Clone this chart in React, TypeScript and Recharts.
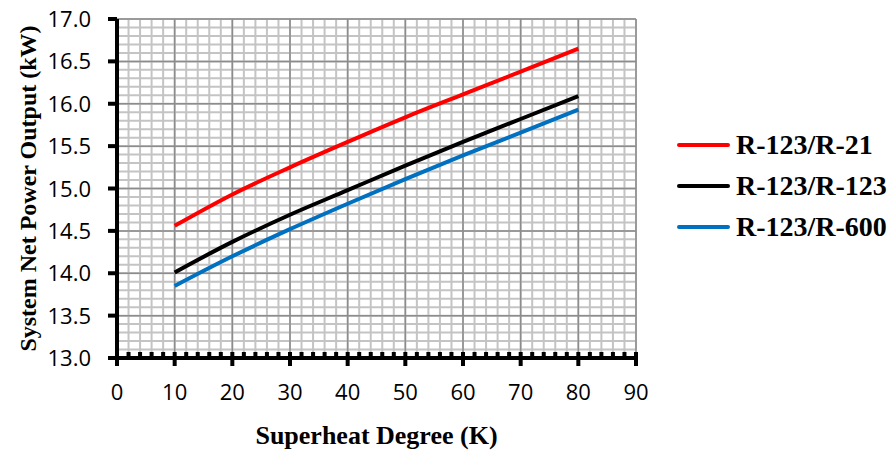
import React from 'react';
import { LineChart, Line, XAxis, YAxis, CartesianGrid, Legend, Label } from 'recharts';

// superheat degree (K) and net power output (kW) per working-fluid pair
const superheat = [10, 20, 30, 40, 50, 60, 70, 80];
const r123r21 = [14.56, 14.93, 15.25, 15.55, 15.84, 16.11, 16.38, 16.65];
const r123r123 = [14.01, 14.37, 14.69, 14.98, 15.27, 15.55, 15.82, 16.09];
const r123r600 = [13.85, 14.2, 14.52, 14.82, 15.11, 15.39, 15.66, 15.93];

const xTicks = [0, 10, 20, 30, 40, 50, 60, 70, 80, 90];
const yTicks = [13, 13.5, 14, 14.5, 15, 15.5, 16, 16.5, 17];

const seriesList = [
  { key: 'r21', name: 'R-123/R-21', color: '#ff0000', values: r123r21 },
  { key: 'r123', name: 'R-123/R-123', color: '#000000', values: r123r123 },
  { key: 'r600', name: 'R-123/R-600', color: '#0070c0', values: r123r600 },
];

const steps = (from: number, to: number, step: number) => {
  const out: number[] = [];
  const n = Math.round((to - from) / step);
  for (let i = 0; i <= n; i++) out.push(+(from + i * step).toFixed(4));
  return out;
};
const xMinor = steps(0, 90, 2);
const yMinor = steps(13, 17, 0.1);

const rows = superheat.map((x, i) => {
  const row: Record<string, number> = { x };
  seriesList.forEach((s) => (row[s.key] = s.values[i]));
  return row;
});

const tickFont = '"Open Sans", Lato, sans-serif';
const serif = '"Liberation Serif", "Times New Roman", serif';

const XTick = (props: any) => {
  const { x, y, payload } = props;
  const v = payload.value;
  const major = v % 10 === 0;
  if (!major) {
    return <rect x={x - 2} y={y - 6} width={4} height={6} fill="#000" />;
  }
  return (
    <g>
      <rect x={x - 2} y={y - 6} width={4} height={14} fill="#000" />
      <text x={x} y={y + 42} textAnchor="middle" fontFamily={tickFont} fontSize={22} fill="#000">
        {v}
      </text>
    </g>
  );
};

const YTick = (props: any) => {
  const { x, y, payload } = props;
  return (
    <g>
      <rect x={x - 9} y={y - 2} width={9} height={4} fill="#000" />
      <text x={x - 26} y={y + 8} textAnchor="end" fontFamily={tickFont} fontSize={22} fill="#000">
        {payload.value.toFixed(1)}
      </text>
    </g>
  );
};

const LegendBox = (props: any) => {
  const payload: any[] = props.payload || [];
  const ordered = seriesList
    .map((s) => payload.find((p) => p.value === s.name))
    .filter(Boolean);
  return (
    <div>
      {ordered.map((p: any) => (
        <div key={p.value} style={{ display: 'flex', alignItems: 'center', height: 41 }}>
          <div style={{ width: 53, height: 4, borderRadius: 2, background: p.color }} />
          <span
            style={{
              marginLeft: 6,
              fontFamily: serif,
              fontWeight: 'bold',
              fontSize: 28,
              color: '#000',
              whiteSpace: 'nowrap',
            }}
          >
            {p.value}
          </span>
        </div>
      ))}
    </div>
  );
};

export default function App() {
  return (
    <div style={{ position: 'absolute', left: 0, top: 0, background: '#fff' }}>
      <LineChart width={895} height={450} data={rows} margin={{ top: 19, right: 259, bottom: 0, left: 0 }}>
        <CartesianGrid
          horizontalValues={yMinor}
          verticalValues={xMinor}
          stroke="#c4c4c4"
          strokeWidth={2}
        />
        <CartesianGrid
          horizontalValues={yTicks}
          verticalValues={xTicks}
          stroke="#8c8c8c"
          strokeWidth={1.5}
        />
        <XAxis
          dataKey="x"
          type="number"
          domain={[0, 90]}
          ticks={xMinor}
          interval={0}
          height={92}
          tickSize={0}
          tickMargin={0}
          tickLine={false}
          tick={<XTick />}
          axisLine={{ stroke: '#000', strokeWidth: 4 }}
        >
          <Label
            value="Superheat Degree (K)"
            position="insideBottom"
            offset={6}
            style={{ fontFamily: serif, fontWeight: 'bold', fontSize: 26, fill: '#000' }}
          />
        </XAxis>
        <YAxis
          type="number"
          domain={[13, 17]}
          ticks={yTicks}
          interval={0}
          width={117}
          tickSize={0}
          tickMargin={0}
          tickLine={false}
          tick={<YTick />}
          axisLine={{ stroke: '#000', strokeWidth: 4 }}
        >
          <Label
            value="System Net Power Output (kW)"
            angle={-90}
            position="insideLeft"
            offset={27}
            style={{ fontFamily: serif, fontWeight: 'bold', fontSize: 24, fill: '#000', textAnchor: 'middle' }}
          />
        </YAxis>
        <Legend
          layout="vertical"
          align="center"
          verticalAlign="middle"
          content={<LegendBox />}
          wrapperStyle={{ left: 677, top: 124, width: 218 }}
        />
        {seriesList.map((s) => (
          <Line
            key={s.key}
            dataKey={s.key}
            name={s.name}
            stroke={s.color}
            strokeWidth={4}
            type="monotone"
            dot={false}
            isAnimationActive={false}
          />
        ))}
      </LineChart>
    </div>
  );
}
